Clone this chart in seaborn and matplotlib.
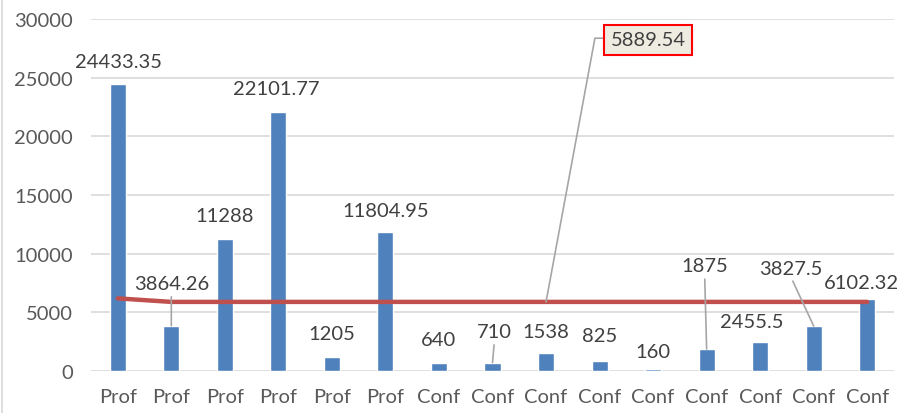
import pandas as pd
import matplotlib.pyplot as plt
import seaborn as sns
from matplotlib.lines import Line2D

# Data
categories = ["Prof"] * 6 + ["Conf"] * 9
values = [24433.35, 3864.26, 11288, 22101.77, 1205, 11804.95,
          640, 710, 1538, 825, 160, 1875, 2455.5, 3827.5, 6102.32]
line_values = [6188.71] + [5889.54] * 14
line_label = "5889.54"

# label placement (pixel offsets from bar top) and leader flags
label_dx = [1, 0, 0, -2, 0, 0, 0, 2, 0, 0, 0, -2, -8, -23, -6]
label_dy = [23, 42, 23, 23, 23, 22, 24, 31, 21, 26, 18, 83, 21, 58, 17]
leaders = [False, True, False, False, False, False, False, True,
           False, False, False, True, False, True, False]

df = pd.DataFrame({"pos": range(len(values)), "value": values})

sns.set_style("white")
plt.rcParams["font.family"] = ["Lato", "DejaVu Sans"]

fig = plt.figure(figsize=(9.21, 4.14), dpi=100)
ax = fig.add_axes([91 / 921, 42 / 414, 803 / 921, 352 / 414])

sns.barplot(data=df, x="pos", y="value", color="#4f81bd", width=0.3,
            saturation=1, ax=ax, zorder=2)
sns.lineplot(x=list(range(len(values))), y=line_values, color="#c0504d",
             linewidth=3.2, ax=ax, zorder=3)

ax.set_xlim(-0.5, len(values) - 0.5)
ax.set_ylim(0, 30000)
ax.set_yticks(range(0, 30001, 5000))
ax.set_xticks(range(len(values)))
ax.set_xticklabels(categories)
ax.set_xlabel("")
ax.set_ylabel("")
ax.grid(axis="y", color="#d9d9d9", linewidth=1.2, zorder=0)
ax.set_axisbelow(True)
for s in ax.spines.values():
    s.set_visible(False)
ax.tick_params(axis="both", length=0, labelsize=14.5, labelcolor="#595959")
ax.tick_params(axis="y", pad=13)
ax.tick_params(axis="x", pad=12)

# data labels
for i, v in enumerate(values):
    txt = str(v)
    if txt.endswith(".0"):
        txt = txt[:-2]
    kw = {}
    if leaders[i]:
        kw["arrowprops"] = dict(arrowstyle="-", color="#a6a6a6", lw=1.2,
                                shrinkA=1, shrinkB=0, relpos=(0.5, 0))
    ax.annotate(txt, xy=(i, v), xytext=(label_dx[i], label_dy[i]),
                textcoords="offset pixels", ha="center", va="center",
                fontsize=14.5, color="#404040", zorder=5, **kw)

# boxed label for the line
ax.annotate(line_label, xy=(8, line_values[8]), xytext=(102, 262),
            textcoords="offset pixels", ha="center", va="center",
            fontsize=14.5, color="#404040", zorder=6,
            bbox=dict(boxstyle="square,pad=0.32", facecolor="#eeece1",
                      edgecolor="#ff0000", linewidth=1.5),
            arrowprops=dict(arrowstyle="-", color="#a6a6a6", lw=1.2,
                            relpos=(0, 0.6), shrinkA=0, shrinkB=0,
                            connectionstyle="angle,angleA=0,angleB=79.5,rad=0"))

fig.add_artist(Line2D([0.002, 0.002], [0, 1], transform=fig.transFigure,
                      color="#d9d9d9", linewidth=1.2))

plt.savefig("out.png", dpi=100)
